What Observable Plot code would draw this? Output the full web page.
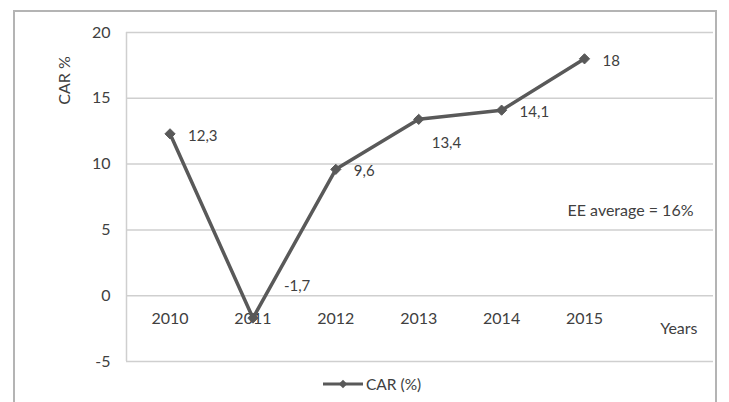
<!DOCTYPE html>
<html>
<head>
<meta charset="utf-8">
<script src="https://cdn.jsdelivr.net/npm/d3@7"></script>
<script src="https://cdn.jsdelivr.net/npm/@observablehq/plot@0.6"></script>
<style>
  html, body { margin: 0; padding: 0; background: #fff; }
  #page { position: relative; width: 729px; height: 402px; overflow: hidden; font-family: Lato, "Open Sans", sans-serif; color: #404040; }
  #border { position: absolute; left: 13px; top: 10px; width: 704px; height: 420px; border: 2px solid #b4b4b4; box-sizing: border-box; }
  #chart { position: absolute; left: 0; top: 0; }
  #legend { position: absolute; left: 323px; top: 375px; display: flex; align-items: center; font-size: 15.5px; color: #404040; }
  #legend svg { margin-right: 3px; }
</style>
</head>
<body>
<div id="page">
  <div id="border"></div>
  <div id="chart"></div>
  <div id="legend"></div>
</div>
<script>
const years = [2010, 2011, 2012, 2013, 2014, 2015];
const car = [12.3, -1.7, 9.6, 13.4, 14.1, 18];
const labels = ["12,3", "-1,7", "9,6", "13,4", "14,1", "18"];
const yTicks = [-5, 0, 5, 10, 15, 20];
const seriesName = "CAR (%)";
const yLabel = "CAR %";
const xLabel = "Years";
const note = "EE average = 16%";

const data = years.map((y, i) => ({year: y, value: car[i], label: labels[i]}));
const lineColor = "#595959";
const textColor = "#404040";

const plot = Plot.plot({
  width: 729,
  height: 372,
  marginLeft: 126,
  marginRight: 16,
  marginTop: 32,
  marginBottom: 11,
  style: {fontFamily: "Lato, 'Open Sans', sans-serif", fontSize: "16px", color: textColor, background: "transparent"},
  x: {type: "linear", domain: [2009.475, 2016.556], axis: null},
  y: {domain: [-5, 20], axis: null},
  marks: [
    Plot.ruleY(yTicks, {stroke: "#cfcfcf", strokeWidth: 1.5}),
    Plot.ruleX([2009.475], {y1: -5, y2: 20, stroke: "#cfcfcf", strokeWidth: 1.5}),
    Plot.text(yTicks, {x: 2009.475, y: d => d, text: d => String(d), textAnchor: "end", dx: -16, fill: textColor, fontSize: 16}),
    Plot.text(years, {x: d => d, y: 0, text: d => String(d), dy: 23, fill: textColor, fontSize: 16}),
    Plot.line(data, {x: "year", y: "value", stroke: lineColor, strokeWidth: 3.5}),
    Plot.dot(data, {x: "year", y: "value", symbol: "diamond2", r: 4.6, fill: lineColor, stroke: lineColor, strokeWidth: 1}),
    Plot.text(data.filter(d => d.year !== 2011 && d.year !== 2013), {x: "year", y: "value", text: "label", textAnchor: "start", dx: 18, dy: 2, fill: textColor, fontSize: 15}),
    Plot.text(data.filter(d => d.year === 2011), {x: "year", y: "value", text: "label", textAnchor: "start", dx: 31, dy: -32, fill: textColor, fontSize: 15}),
    Plot.text(data.filter(d => d.year === 2013), {x: "year", y: "value", text: "label", textAnchor: "start", dx: 13, dy: 24, fill: textColor, fontSize: 15}),
    Plot.text([yLabel], {frameAnchor: "top-left", text: d => d, rotate: -90, textAnchor: "middle", dx: -68, dy: 48, fill: textColor, fontSize: 16}),
    Plot.text([xLabel], {frameAnchor: "bottom-right", text: d => d, textAnchor: "end", dx: -16, dy: -28, fill: textColor, fontSize: 16}),
    Plot.text([note], {frameAnchor: "right", text: d => d, textAnchor: "end", dx: -20, dy: 14, fill: textColor, fontSize: 16})
  ]
});
document.getElementById("chart").appendChild(plot);

// legend
const legend = document.getElementById("legend");
const ns = "http://www.w3.org/2000/svg";
const sw = document.createElementNS(ns, "svg");
sw.setAttribute("width", 40); sw.setAttribute("height", 14);
const ln = document.createElementNS(ns, "line");
ln.setAttribute("x1", 0); ln.setAttribute("x2", 40); ln.setAttribute("y1", 7); ln.setAttribute("y2", 7);
ln.setAttribute("stroke", lineColor); ln.setAttribute("stroke-width", 3);
sw.appendChild(ln);
const dm = document.createElementNS(ns, "path");
dm.setAttribute("d", d3.symbol(d3.symbolDiamond2, 45)());
dm.setAttribute("transform", "translate(20,7)");
dm.setAttribute("fill", lineColor);
sw.appendChild(dm);
legend.appendChild(sw);
const lt = document.createElement("span");
lt.textContent = seriesName;
legend.appendChild(lt);
</script>
</body>
</html>
